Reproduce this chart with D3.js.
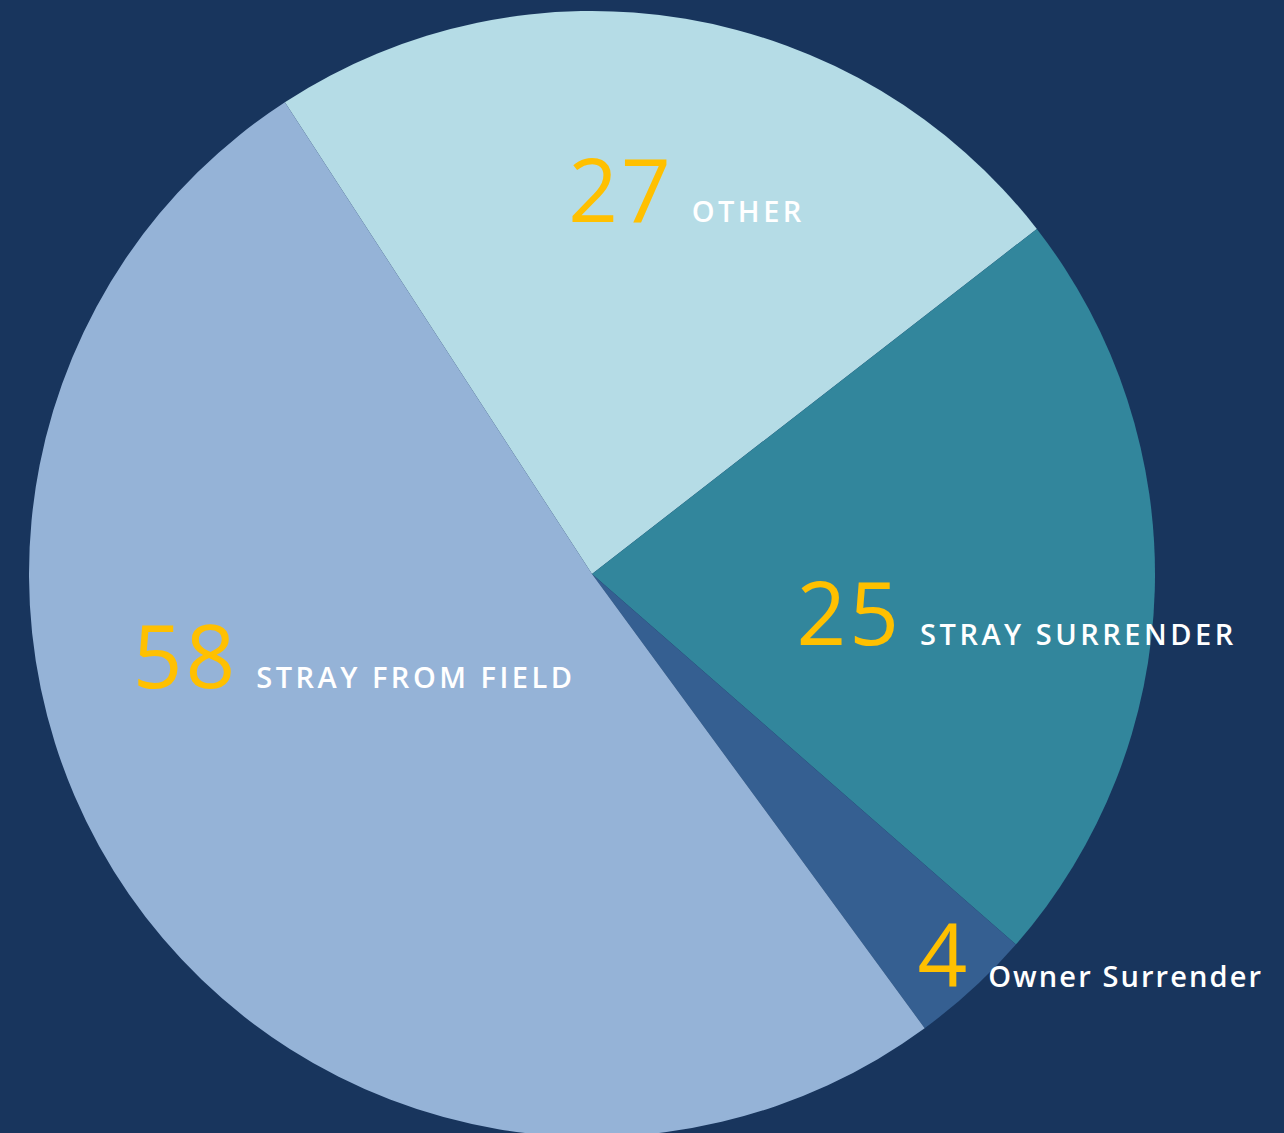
<!DOCTYPE html>
<html>
<head>
<meta charset="utf-8">
<script src="https://cdn.jsdelivr.net/npm/d3@7"></script>
<style>
  html, body { margin: 0; padding: 0; background: #18355d; }
  svg { display: block; }
</style>
</head>
<body>
<svg id="intake-chart"></svg>
<script>
// intake sources, clockwise from the top-left edge
const categories = ['OTHER', 'STRAY SURRENDER', 'Owner Surrender', 'STRAY FROM FIELD'];
const counts = [27, 25, 4, 58];
const sliceColors = ['#b5dce6', '#32869c', '#355f91', '#95b3d7'];

const WIDTH = 1284;
const HEIGHT = 1133;
const CENTER = { x: 592, y: 574 };
const RADIUS = 563;
const START_ANGLE = -33.06 * Math.PI / 180;

// where each label pair sits: radius from centre and angle shift from the slice middle (deg)
const LABEL_LAYOUT = [
    { r: 363, shift: 4.4 },
    { r: 324, shift: 11.0 },
    { r: 564, shift: -0.4 },
    { r: 366, shift: 16.5 }
];

const NUMBER_COLOR = '#ffc000';
const LABEL_COLOR = '#ffffff';

const data = categories.map((name, i) => ({ name, value: counts[i], color: sliceColors[i], layout: LABEL_LAYOUT[i] }));

const svg = d3.select('#intake-chart')
    .attr('width', WIDTH)
    .attr('height', HEIGHT);

svg.append('rect')
    .attr('width', WIDTH)
    .attr('height', HEIGHT)
    .attr('fill', '#18355d');

const pie = d3.pie()
    .value(d => d.value)
    .sort(null)
    .startAngle(START_ANGLE)
    .endAngle(START_ANGLE + 2 * Math.PI);

const arc = d3.arc()
    .innerRadius(0)
    .outerRadius(RADIUS);

const g = svg.append('g')
    .attr('transform', `translate(${CENTER.x},${CENTER.y})`);

const arcs = pie(data);

g.selectAll('path.slice')
    .data(arcs)
    .enter()
    .append('path')
    .attr('class', 'slice')
    .attr('d', arc)
    .attr('fill', d => d.data.color);

const labels = g.selectAll('g.label')
    .data(arcs)
    .enter()
    .append('g')
    .attr('class', 'label')
    .attr('transform', d => {
        const mid = (d.startAngle + d.endAngle) / 2 + d.data.layout.shift * Math.PI / 180;
        const x = Math.sin(mid) * d.data.layout.r;
        const y = -Math.cos(mid) * d.data.layout.r;
        return `translate(${x},${y})`;
    });

labels.append('text')
    .attr('x', -6)
    .attr('text-anchor', 'end')
    .style('font-family', '"Open Sans", sans-serif')
    .style('font-size', '87px')
    .style('font-weight', '400')
    .style('letter-spacing', '3px')
    .style('fill', NUMBER_COLOR)
    .text(d => d.data.value);

// all-caps labels are set wider, like the original typeface
labels.append('text')
    .attr('x', 12)
    .attr('text-anchor', 'start')
    .style('font-family', '"Open Sans", sans-serif')
    .style('font-size', '29px')
    .style('font-weight', '600')
    .style('letter-spacing', d => d.data.name === d.data.name.toUpperCase() ? '3.5px' : '2.1px')
    .style('fill', LABEL_COLOR)
    .text(d => d.data.name);
</script>
</body>
</html>
